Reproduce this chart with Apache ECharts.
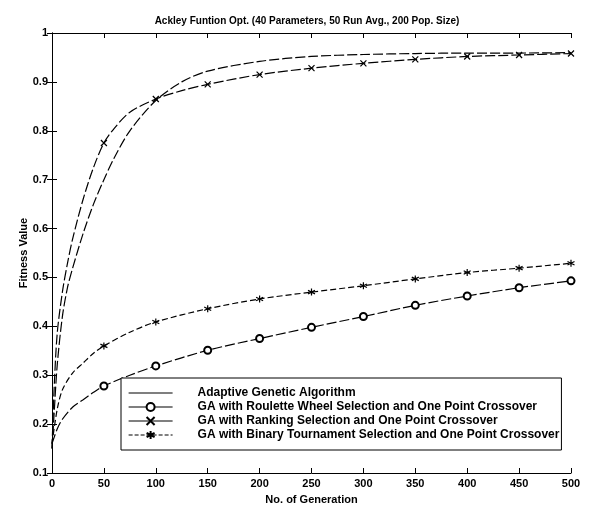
<!DOCTYPE html>
<html>
<head>
<meta charset="utf-8">
<script src="https://cdn.jsdelivr.net/npm/echarts@6/dist/echarts.min.js"></script>
<style>
html,body{margin:0;padding:0;background:#fff;}
#chart{width:589px;height:519px;}
</style>
</head>
<body>
<div id="chart"></div>
<script>
// ---- data ----
const titleText = 'Ackley Funtion Opt. (40 Parameters, 50 Run Avg., 200 Pop. Size)';
const xName = 'No. of Generation';
const yName = 'Fitness Value';
const seriesNames = [
  'Adaptive Genetic Algorithm',
  'GA with Roulette Wheel Selection and One Point Crossover',
  'GA with Ranking Selection and One Point Crossover',
  'GA with Binary Tournament Selection and One Point Crossover'
];
const genUpper = [0, 2, 5, 10, 15, 20, 30, 40, 50, 60, 75, 100, 125, 150, 200, 250, 300, 350, 400, 450, 500];
const adaptive = [0.15, 0.22, 0.32, 0.42, 0.48, 0.52, 0.59, 0.65, 0.70, 0.745, 0.80, 0.862, 0.90, 0.922, 0.942, 0.952, 0.956, 0.958, 0.959, 0.959, 0.96];
const ranking  = [0.15, 0.27, 0.385, 0.47, 0.53, 0.58, 0.66, 0.725, 0.775, 0.805, 0.838, 0.865, 0.882, 0.895, 0.915, 0.928, 0.938, 0.946, 0.952, 0.955, 0.958];
const genLower = [0, 5, 10, 20, 30, 40, 50, 75, 100, 150, 200, 250, 300, 350, 400, 450, 500];
const roulette   = [0.16, 0.19, 0.21, 0.235, 0.25, 0.265, 0.278, 0.30, 0.319, 0.351, 0.375, 0.398, 0.42, 0.443, 0.462, 0.479, 0.493];
const tournament = [0.16, 0.23, 0.27, 0.305, 0.325, 0.345, 0.36, 0.388, 0.409, 0.436, 0.456, 0.47, 0.483, 0.497, 0.51, 0.519, 0.529];
const markerStep = 50;

// ---- build ----
const FONT = '"Liberation Sans", Arial, sans-serif';
function pts(gens, vals, sym) {
  return gens.map((g, i) => ({
    value: [g, vals[i]],
    symbol: (sym !== 'none' && g > 0 && g % markerStep === 0) ? sym : 'none'
  }));
}
const symX = 'path://M0,0L10,10M10,0L0,10';
const symStar = 'path://M5,0L5,10M0,2.5L10,7.5M0,7.5L10,2.5';

const chart = echarts.init(document.getElementById('chart'), null, {renderer: 'canvas'});
const baseLine = {color: '#000', width: 1.2};
chart.setOption({
  animation: false,
  backgroundColor: '#fff',
  title: {
    text: titleText, left: 302, top: 11, textAlign: 'center',
    textStyle: {fontFamily: FONT, fontSize: 10, fontWeight: 'bold', color: '#000'}
  },
  grid: {left: 52, right: 18, top: 33, bottom: 46},
  legend: {
    orient: 'vertical', left: 121, top: 378,
    backgroundColor: '#fff', borderColor: '#000', borderWidth: 1,
    padding: [9, 2, 9, 7],
    itemWidth: 44, itemHeight: 10, itemGap: 2,
    lineStyle: {type: 'solid', width: 1.2},
    textStyle: {fontFamily: FONT, fontSize: 12, fontWeight: 'bold', color: '#000', width: 364, padding: [0, 0, 0, 20]},
    data: [
      {name: seriesNames[0], icon: 'path://M0,4.4L44,4.4L44,5.6L0,5.6Z'},
      {name: seriesNames[1]},
      {name: seriesNames[2]},
      {name: seriesNames[3], lineStyle: {type: [4, 2]}}
    ]
  },
  xAxis: [{
    type: 'value', min: 0, max: 500, interval: 50,
    name: xName, nameLocation: 'middle', nameGap: 21,
    nameTextStyle: {fontFamily: FONT, fontSize: 11, fontWeight: 'bold', color: '#000'},
    axisLine: {lineStyle: {color: '#000', width: 1}},
    axisTick: {inside: true, length: 5, lineStyle: {color: '#000'}},
    axisLabel: {fontFamily: FONT, fontSize: 11, fontWeight: 'bold', color: '#000', margin: 5},
    splitLine: {show: false}
  }, {
    type: 'value', position: 'top', min: 0, max: 500, interval: 50,
    axisLine: {lineStyle: {color: '#000', width: 1}},
    axisTick: {inside: true, length: 5, lineStyle: {color: '#000'}},
    axisLabel: {show: false}, splitLine: {show: false}
  }],
  yAxis: [{
    type: 'value', min: 0.1, max: 1, interval: 0.1,
    name: yName, nameLocation: 'middle', nameGap: 23, nameMoveOverlap: false,
    nameTextStyle: {fontFamily: FONT, fontSize: 11, fontWeight: 'bold', color: '#000'},
    axisLine: {show: true, lineStyle: {color: '#000', width: 1}},
    axisTick: {show: true, inside: true, length: 5, lineStyle: {color: '#000'}},
    axisLabel: {fontFamily: FONT, fontSize: 11, fontWeight: 'bold', color: '#000', margin: 4,
      formatter: v => (Math.abs(v - 1) < 1e-9 ? '1' : v.toFixed(1))},
    splitLine: {show: false}
  }, {
    type: 'value', position: 'right', min: 0.1, max: 1, interval: 0.1,
    axisLine: {show: true, lineStyle: {color: '#000', width: 1}},
    axisTick: {show: true, inside: true, length: 5, lineStyle: {color: '#000'}},
    axisLabel: {show: false}, splitLine: {show: false}
  }],
  series: [
    {name: seriesNames[0], type: 'line', smooth: 0.3, symbol: 'none', symbolSize: 0,
     lineStyle: Object.assign({}, baseLine, {type: [10, 3]}), itemStyle: {color: '#000'},
     data: pts(genUpper, adaptive, 'none')},
    {name: seriesNames[1], type: 'line', smooth: 0.3, symbol: 'emptyCircle', symbolSize: 7,
     lineStyle: Object.assign({}, baseLine, {type: [10, 3]}), itemStyle: {color: '#000', borderColor: '#000', borderWidth: 1},
     data: pts(genLower, roulette, 'emptyCircle')},
    {name: seriesNames[2], type: 'line', smooth: 0.3, symbol: symX, symbolSize: 6,
     lineStyle: Object.assign({}, baseLine, {type: [10, 3]}), itemStyle: {color: '#000', borderColor: '#000', borderWidth: 1.2},
     data: pts(genUpper, ranking, symX)},
    {name: seriesNames[3], type: 'line', smooth: 0.3, symbol: symStar, symbolSize: 7,
     lineStyle: Object.assign({}, baseLine, {type: [6, 3]}), itemStyle: {color: '#000', borderColor: '#000', borderWidth: 1.2},
     data: pts(genLower, tournament, symStar)}
  ]
});
</script>
</body>
</html>
